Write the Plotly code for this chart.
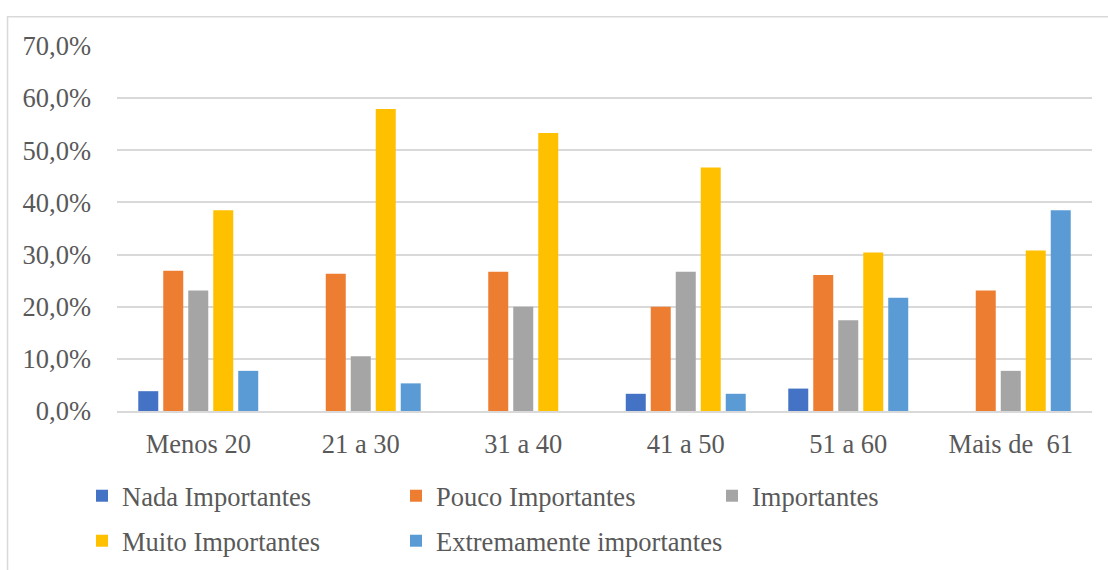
import plotly.graph_objects as go

categories = ["Menos 20", "21 a 30", "31 a 40", "41 a 50", "51 a 60", "Mais de  61"]
series_names = ["Nada Importantes", "Pouco Importantes", "Importantes",
                "Muito Importantes", "Extremamente importantes"]
nada = [0.038, 0.0, 0.0, 0.033, 0.043, 0.0]
pouco = [0.269, 0.263, 0.267, 0.200, 0.261, 0.231]
importantes = [0.231, 0.105, 0.200, 0.267, 0.174, 0.077]
muito = [0.385, 0.579, 0.533, 0.467, 0.304, 0.308]
extremamente = [0.077, 0.053, 0.0, 0.033, 0.217, 0.385]
y_ticks = [0, 0.1, 0.2, 0.3, 0.4, 0.5, 0.6, 0.7]
y_tick_labels = ["0,0%", "10,0%", "20,0%", "30,0%", "40,0%", "50,0%", "60,0%", "70,0%"]

colors = ["#4472C4", "#ED7D31", "#A5A5A5", "#FFC000", "#5B9BD5"]
values = [nada, pouco, importantes, muito, extremamente]
legend_ids = ["legend", "legend2", "legend3", "legend4", "legend5"]
# legend item positions in pixels (left x, top y)
legend_pos = [(82, 472), (396, 472), (712, 472), (82, 517), (396, 517)]

FONT = "Liberation Serif, Times New Roman, serif"
TXT = "#595959"
FS = 26.5
W, H = 1108, 570
L, R, T, B = 117, 15.6, 45.7, 159.3

fig = go.Figure()
for name, vals, col, lg in zip(series_names, values, colors, legend_ids):
    fig.add_trace(go.Bar(x=categories, y=vals, name=name, marker_color=col,
                         marker_line_width=0, legend=lg, showlegend=True,
                         hovertemplate="%{x}: %{y:.1%}<extra>" + name + "</extra>"))

pw = W - L - R
ph = H - T - B
def px_x(p):
    return (p - L) / pw
def px_y(p):
    return (H - B - p) / ph

legend_layout = {}
for lg, (lx, ly) in zip(legend_ids, legend_pos):
    legend_layout[lg] = dict(orientation="h", xref="container", yref="container",
                             x=lx / W, y=1 - ly / H, xanchor="left", yanchor="top",
                             font=dict(family=FONT, size=FS, color=TXT),
                             bgcolor="rgba(0,0,0,0)", borderwidth=0)

fig.update_layout(
    width=W, height=H,
    showlegend=True,
    margin=dict(l=L, r=R, t=T, b=B),
    plot_bgcolor="white", paper_bgcolor="white",
    barmode="group", bargap=0.231, bargroupgap=0.2,
    font=dict(family=FONT, size=FS, color=TXT),
    xaxis=dict(showgrid=False, showline=True, linecolor="#d9d9d9", linewidth=1.5,
               ticks="", tickfont=dict(family=FONT, size=FS, color=TXT),
               ticklabelstandoff=8, fixedrange=True),
    yaxis=dict(range=[0, 0.7], tickvals=y_ticks, ticktext=y_tick_labels,
               showgrid=True, gridcolor="#d9d9d9", gridwidth=1.5,
               zeroline=False, showline=False, ticks="",
               tickfont=dict(family=FONT, size=FS, color=TXT),
               ticklabelstandoff=25, fixedrange=True),
    shapes=[dict(type="rect", xref="paper", yref="paper",
                 x0=px_x(7.5), x1=px_x(1200), y0=px_y(16.5), y1=px_y(700),
                 line=dict(color="#d9d9d9", width=1.5), fillcolor="rgba(0,0,0,0)",
                 layer="below")],
    **legend_layout,
)

fig.write_html("out.html")
